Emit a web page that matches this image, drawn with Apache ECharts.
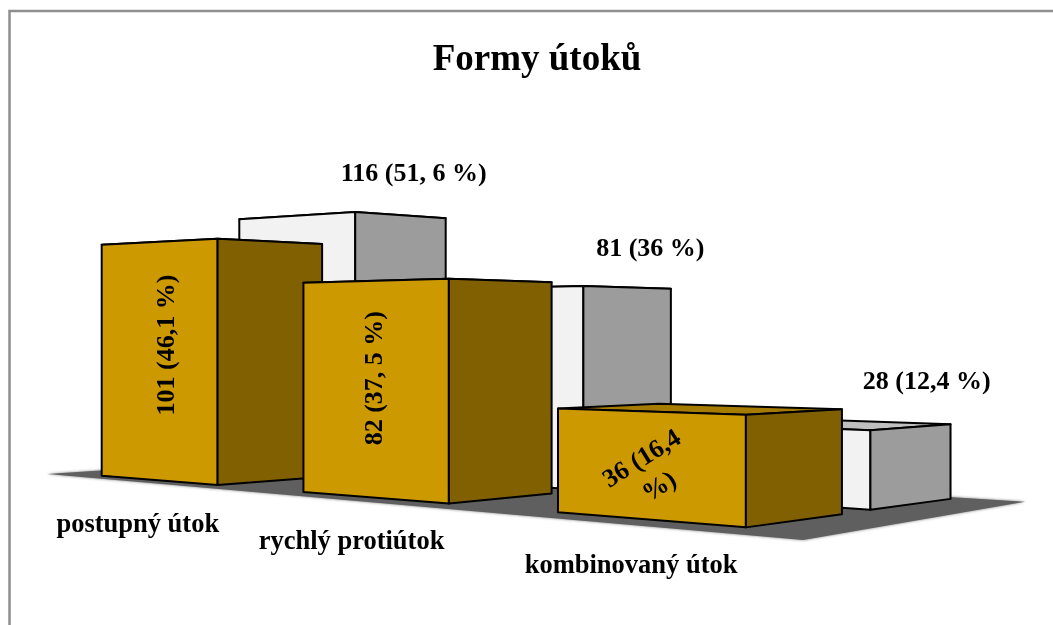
<!DOCTYPE html>
<html>
<head>
<meta charset="utf-8">
<style>html,body{margin:0;padding:0;background:#fff}#c{width:1053px;height:625px}</style>
<script src="https://cdn.jsdelivr.net/npm/echarts@6/dist/echarts.min.js"></script>
</head>
<body>
<div id="c"></div>
<script>
// ---- chart data ----
const categories = ['postupný útok', 'rychlý protiútok', 'kombinovaný útok'];
const frontValues = [101, 82, 36];
const backValues = [116, 81, 28];
const frontLabels = ['101 (46,1 %)', '82 (37, 5 %)', '36 (16,4\n%)'];
const backLabels = ['116 (51, 6 %)', '81 (36 %)', '28 (12,4 %)'];
const titleText = 'Formy útoků';

// ---- camera: two vanishing points on the horizon, verticals stay vertical ----
const VP_U = -1640, VP_V = 2150, HORIZON = 336, ORIGIN_X = 101.7, ORIGIN_Y = 475.7;
function project(t, s, h) {
  const w = 1 + t + s;
  return [(ORIGIN_X + VP_U * t + VP_V * s) / w, (ORIGIN_Y + HORIZON * (t + s) - h) / w];
}
// world layout of bars
const PITCH = 0.1038, FIRST_T = -0.0312, BAR_T = 0.0624;
const FRONT_ROW = { s0: 0, s1: 0.0536, dt: 0 };
const BACK_ROW = { s0: 0.073, s1: 0.1267, dt: 0.001 };
const FLOOR_CORNERS = [[0.0212, -0.0089], [-0.2971, -0.0181], [-0.2902, 0.1333], [0.0212, 0.1333]];

const VALUE_FONT = 'bold 26px "Liberation Serif"';
const CATEGORY_FONT = 'bold 26.5px "Liberation Serif"';
const STROKE = { stroke: '#000', lineWidth: 2, lineJoin: 'round' };
const GOLD = { front: '#CC9900', side: '#806000', top: '#A67C00' };
const GREY = { front: '#F2F2F2', side: '#9C9C9C', top: '#BFBFBF' };
// label placement relative to projected anchors
const frontNudge = [[9, -16, Math.PI / 2], [2, -11, Math.PI / 2], [3, 8, 0.56]];
const backNudge = [[12, -41], [22, -38], [15, -45]];
const categoryNudge = [[-20, 45], [-22, 45], [-17, 47]];

function poly(points, fill) {
  return { type: 'polygon', shape: { points }, style: Object.assign({ fill }, STROKE) };
}
function box(params, api, row, colors) {
  const cat = api.value(0);
  const top = api.coord([cat, api.value(1)]);
  const base = api.coord([cat, 0]);
  const origin = api.coord([0, 0]);
  const band = api.size([1, 0])[0];
  const h = base[1] - top[1];
  const tc = FIRST_T - (base[0] - origin[0]) / band * PITCH + row.dt;
  const tL = tc + BAR_T / 2, tR = tc - BAR_T / 2;
  const a = project(tL, row.s0, h), b = project(tR, row.s0, h), c = project(tR, row.s1, h), d = project(tL, row.s1, h);
  const a0 = project(tL, row.s0, 0), b0 = project(tR, row.s0, 0), c0 = project(tR, row.s1, 0);
  return {
    tc, h, sideTop: project(tR, (row.s0 + row.s1) / 2, h),
    faces: [poly([a, b, c, d], colors.top), poly([a, b, b0, a0], colors.front), poly([b, c, c0, b0], colors.side)]
  };
}
function text(str, x, y, rotation, font) {
  return { type: 'text', x, y, rotation: rotation || 0, silent: true,
    style: { text: str, font: font || VALUE_FONT, lineHeight: 33, fill: '#000', align: 'center', verticalAlign: 'middle' } };
}

const option = {
  animation: false,
  backgroundColor: '#fff',
  title: { text: titleText, left: 532, top: 37, textAlign: 'center',
    textStyle: { fontFamily: 'Liberation Serif', fontWeight: 'bold', fontSize: 37, color: '#000' } },
  graphic: [{ type: 'polyline', shape: { points: [[9.5, 625], [9.5, 11], [1053, 11]] },
    style: { stroke: '#8f8f8f', lineWidth: 2.5, fill: null }, silent: true }],
  grid: { left: 0, width: 900, top: 100, height: 320 },
  xAxis: { type: 'category', data: categories, show: false },
  yAxis: { type: 'value', min: 0, max: 140, interval: 20, show: false },
  series: [
    { type: 'custom', name: 'floor', data: [[0, 0]], encode: { x: 0, y: 1 }, z: 1,
      renderItem() {
        return { type: 'polygon', shape: { points: FLOOR_CORNERS.map(c => project(c[0], c[1], 0)) },
          style: { fill: '#5f5f5f', shadowBlur: 3, shadowColor: '#777' } };
      } },
    { type: 'custom', name: 'back', data: backValues.map((v, i) => [i, v]), encode: { x: 0, y: 1 }, z: 2,
      renderItem(params, api) {
        const i = params.dataIndex, b = box(params, api, BACK_ROW, GREY);
        const n = backNudge[i];
        return { type: 'group', children: b.faces.concat(text(backLabels[i], b.sideTop[0] + n[0], b.sideTop[1] + n[1])) };
      } },
    { type: 'custom', name: 'front', data: frontValues.map((v, i) => [i, v]), encode: { x: 0, y: 1 }, z: 3,
      renderItem(params, api) {
        const i = params.dataIndex, b = box(params, api, FRONT_ROW, GOLD);
        const mid = project(b.tc, 0, b.h / 2), foot = project(b.tc, 0, 0), n = frontNudge[i], c = categoryNudge[i];
        return { type: 'group', children: b.faces.concat(
          text(frontLabels[i], mid[0] + n[0], mid[1] + n[1], n[2]),
          text(categories[i], foot[0] + c[0], foot[1] + c[1], 0, CATEGORY_FONT)) };
      } }
  ]
};
const chart = echarts.init(document.getElementById('c'), null, { renderer: 'canvas' });
chart.setOption(option);
</script>
</body>
</html>
